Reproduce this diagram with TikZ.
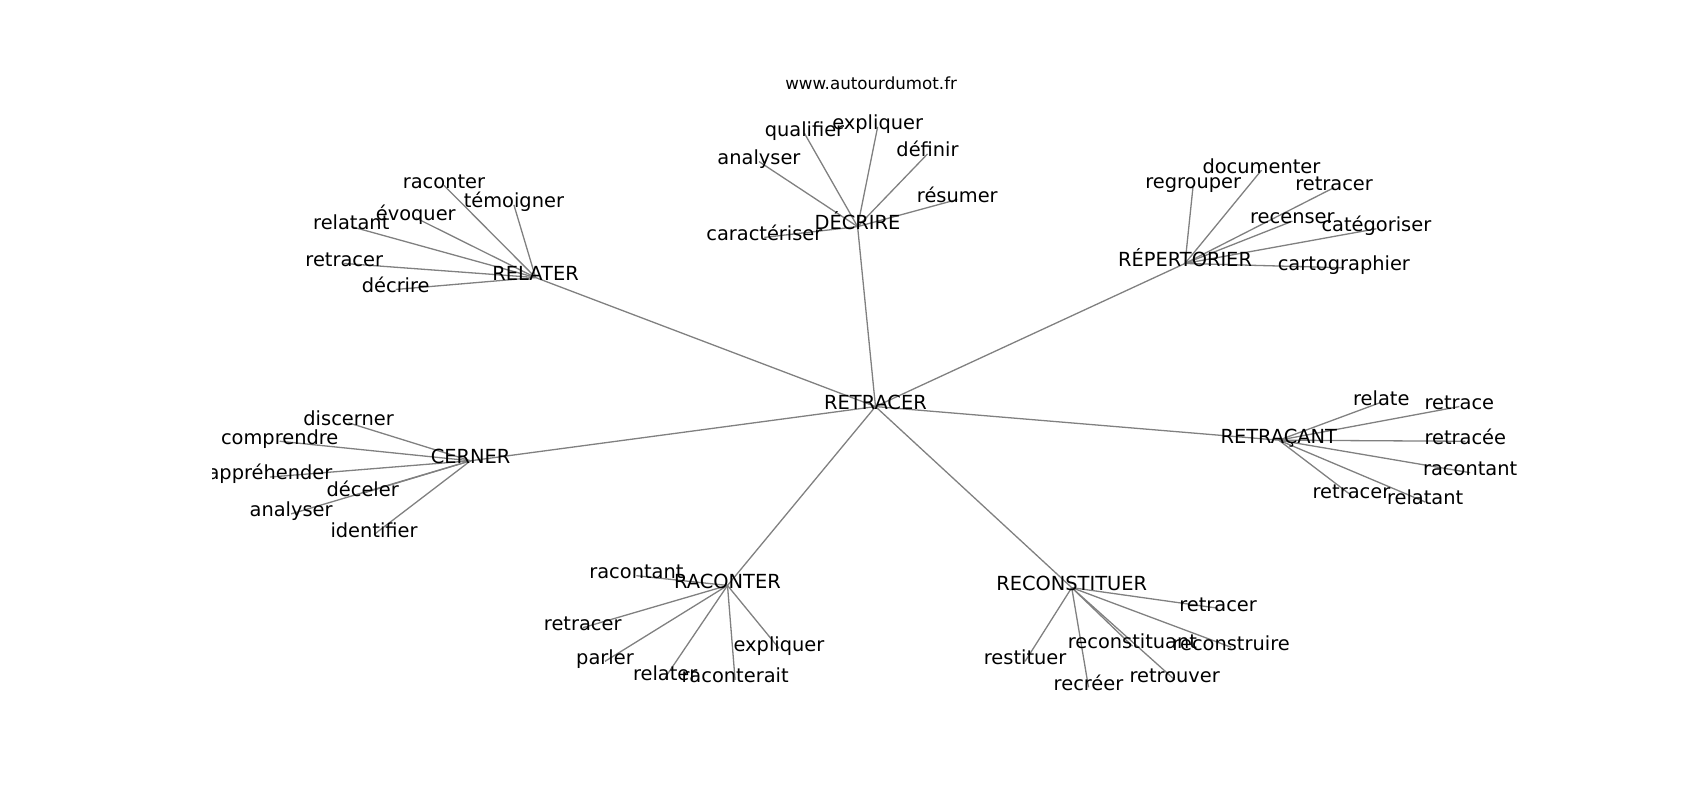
\documentclass[tikz,border=0pt]{standalone}
\usepackage{fontspec}
\setmainfont{DejaVu Sans}
\pgfdeclarelayer{bg}
\pgfsetlayers{bg,main}
\begin{document}
\begin{tikzpicture}[x=1pt,y=-1pt,
  lbl/.style={font=\fontsize{17.9}{21}\selectfont, inner sep=0pt, text height=0.76em, text depth=0.24em, anchor=center},
  ttl/.style={font=\fontsize{15.4}{18}\selectfont, inner sep=0pt, text height=0.76em, text depth=0.24em, anchor=center},
  edge/.style={draw=black!50, line width=1.2pt}]
\useasboundingbox (0,0) rectangle (1568,738);
\begin{scope}[yshift=-4pt]
\node[ttl] (title) at (803.5,76) {www.autourdumot.fr};
\begin{scope}
\clip (196,84.6) rectangle (1411,653);
% centre and hubs
\node[lbl] (c) at (807.5,371) {RETRACER};
\node[lbl] (h1) at (494,252) {RELATER};
\node[lbl] (h2) at (791,205) {DÉCRIRE};
\node[lbl] (h3) at (1093,239) {RÉPERTORIER};
\node[lbl] (h4) at (434,421) {CERNER};
\node[lbl] (h5) at (1179.5,402) {RETRAÇANT};
\node[lbl] (h6) at (671,536) {RACONTER};
\node[lbl] (h7) at (988.5,538) {RECONSTITUER};
% RELATER leaves
\node[lbl] (a1) at (409.5,167) {raconter};
\node[lbl] (a2) at (474,185) {témoigner};
\node[lbl] (a3) at (383.5,197) {évoquer};
\node[lbl] (a4) at (324,205) {relatant};
\node[lbl] (a5) at (317.5,239) {retracer};
\node[lbl] (a6) at (365,263) {décrire};
% DECRIRE leaves
\node[lbl] (b1) at (742,119) {qualifier};
\node[lbl] (b2) at (809.5,113) {expliquer};
\node[lbl] (b3) at (700,145) {analyser};
\node[lbl] (b4) at (855.5,138) {définir};
\node[lbl] (b5) at (883,180) {résumer};
\node[lbl] (b6) at (705,215) {caractériser};
% REPERTORIER leaves
\node[lbl] (d1) at (1100.5,167) {regrouper};
\node[lbl] (d2) at (1163.5,153) {documenter};
\node[lbl] (d3) at (1230.5,169) {retracer};
\node[lbl] (d4) at (1192,200) {recenser};
\node[lbl] (d5) at (1269.5,207) {catégoriser};
\node[lbl] (d6) at (1239.5,243) {cartographier};
% CERNER leaves
\node[lbl] (e1) at (321.5,386) {discerner};
\node[lbl] (e2) at (258,403) {comprendre};
\node[lbl] (e3) at (249,436) {appréhender};
\node[lbl] (e4) at (334.5,451) {déceler};
\node[lbl] (e5) at (268.5,470) {analyser};
\node[lbl] (e6) at (345,489) {identifier};
% RETRACANT leaves
\node[lbl] (f1) at (1274,367) {relate};
\node[lbl] (f2) at (1346,371) {retrace};
\node[lbl] (f3) at (1351.5,403) {retracée};
\node[lbl] (f4) at (1356,432) {racontant};
\node[lbl] (f5) at (1246.5,453) {retracer};
\node[lbl] (f6) at (1314.5,459) {relatant};
% RACONTER leaves
\node[lbl] (g1) at (587,527) {racontant};
\node[lbl] (g2) at (537.5,575) {retracer};
\node[lbl] (g3) at (558,606) {parler};
\node[lbl] (g4) at (613.5,621) {relater};
\node[lbl] (g5) at (678,623) {raconterait};
\node[lbl] (g6) at (718.5,594) {expliquer};
% RECONSTITUER leaves
\node[lbl] (k1) at (1123.5,557) {retracer};
\node[lbl] (k2) at (1044.5,592) {reconstituant};
\node[lbl] (k3) at (1135.5,593) {reconstruire};
\node[lbl] (k4) at (945.5,606) {restituer};
\node[lbl] (k5) at (1004,630) {recréer};
\node[lbl] (k6) at (1083.5,623) {retrouver};
\end{scope}
\begin{pgfonlayer}{bg}
\foreach \h in {h1,h2,h3,h4,h5,h6,h7}
  \draw[edge] (c.center) -- (\h.center);
\foreach \p/\l in {h1/a,h2/b,h3/d,h4/e,h5/f,h6/g,h7/k}
  \foreach \i in {1,...,6}
    \draw[edge] (\p.center) -- (\l\i.center);
\end{pgfonlayer}
\end{scope}
\end{tikzpicture}
\end{document}
